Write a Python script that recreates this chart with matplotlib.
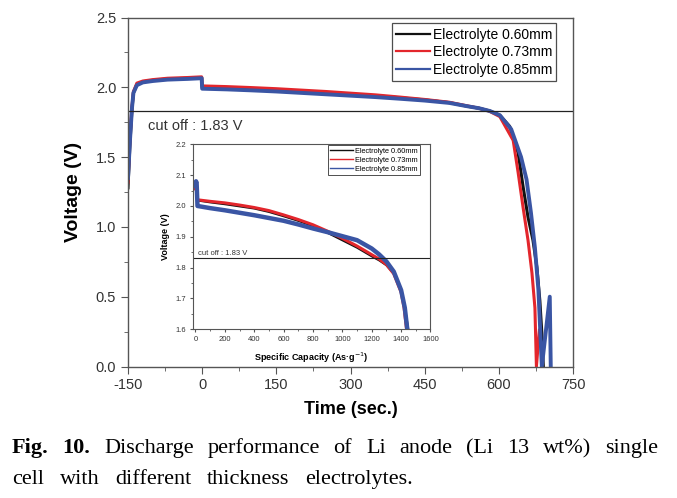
"""Discharge curves of a Li anode single cell, with a specific capacity inset."""

import matplotlib

matplotlib.use("Agg")
import matplotlib.pyplot as plt
from matplotlib.ticker import MultipleLocator

# main panel: voltage vs time (sec.)
labels = ["Electrolyte 0.60mm", "Electrolyte 0.73mm", "Electrolyte 0.85mm"]

t_black = [-150, -146, -142, -139, -132, -120, -100, -70, -30, -1,
           0, 50, 100, 150, 200, 250, 300, 350, 400, 450,
           500, 535, 560, 582, 602, 622, 639, 649, 659, 669,
           677, 683, 687, 690]
v_black = [1.28, 1.60, 1.84, 1.96, 2.02, 2.04, 2.05, 2.06, 2.065, 2.07,
           2.00, 1.995, 1.99, 1.98, 1.97, 1.96, 1.95, 1.94, 1.925, 1.91,
           1.89, 1.865, 1.85, 1.83, 1.80, 1.72, 1.53, 1.29, 1.07, 0.905,
           0.71, 0.47, 0.24, 0.0]

t_red = [-150, -146, -142, -139, -132, -120, -100, -70, -30, -1,
         0, 50, 100, 150, 200, 250, 300, 350, 400, 450,
         500, 535, 560, 580, 602, 629, 639, 649, 659, 667,
         673, 676, 682]
v_red = [1.32, 1.64, 1.86, 1.97, 2.03, 2.045, 2.055, 2.065, 2.07, 2.075,
         2.01, 2.005, 1.998, 1.99, 1.98, 1.97, 1.958, 1.946, 1.93, 1.913,
         1.893, 1.868, 1.85, 1.83, 1.79, 1.62, 1.39, 1.14, 0.905, 0.67,
         0.42, 0.0, 0.26]

t_blue = [-150, -146, -142, -139, -132, -120, -100, -70, -30, -1,
          0, 50, 100, 150, 200, 250, 300, 350, 400, 450,
          500, 535, 560, 582, 602, 625, 645, 656, 665, 673,
          680, 687, 703, 705]
v_blue = [1.35, 1.62, 1.85, 1.96, 2.015, 2.035, 2.045, 2.055, 2.06, 2.065,
          1.99, 1.985, 1.978, 1.97, 1.96, 1.95, 1.94, 1.93, 1.918, 1.905,
          1.888, 1.865, 1.85, 1.83, 1.80, 1.70, 1.50, 1.34, 1.10, 0.85,
          0.55, 0.0, 0.50, 0.0]

# inset: voltage vs specific capacity (As/g)
cap_black = [0, 4, 8, 14, 100, 200, 300, 400, 500, 600, 700, 800, 900, 1000,
             1100, 1200, 1250, 1300, 1350, 1400, 1420, 1435, 1448]
vin_black = [2.06, 2.075, 2.07, 2.018, 2.012, 2.006, 1.999, 1.992, 1.981, 1.967,
             1.952, 1.935, 1.913, 1.889, 1.865, 1.837, 1.824, 1.808, 1.781,
             1.727, 1.684, 1.641, 1.60]

cap_red = [0, 4, 8, 14, 100, 200, 300, 400, 500, 600, 700, 800, 900, 1000,
           1100, 1200, 1250, 1300, 1350, 1400, 1420, 1437]
vin_red = [2.055, 2.07, 2.065, 2.02, 2.015, 2.01, 2.003, 1.995, 1.985, 1.971,
           1.956, 1.939, 1.918, 1.895, 1.87, 1.842, 1.828, 1.81, 1.78, 1.72,
           1.67, 1.60]

cap_blue = [0, 4, 8, 14, 100, 200, 300, 400, 500, 600, 700, 800, 900, 1000,
            1100, 1200, 1250, 1300, 1350, 1400, 1425, 1442]
vin_blue = [2.065, 2.08, 2.075, 2.0, 1.993, 1.986, 1.978, 1.970, 1.961, 1.952,
            1.94, 1.927, 1.915, 1.902, 1.889, 1.862, 1.843, 1.82, 1.787, 1.727,
            1.67, 1.60]

cutoff = 1.83

caption_line1 = ["Fig.", "10.", "Discharge", "performance", "of", "Li", "anode",
                 "(Li", "13", "wt%)", "single"]
caption_bold = 2  # first two words are bold
caption_line2 = ["cell", "with", "different", "thickness", "electrolytes."]

colors = ["#111111", "#e3262c", "#3a55a4"]
spine_color = "#555555"
tick_color = "#333333"

plt.rcParams["font.family"] = ["Liberation Sans", "DejaVu Sans"]
plt.rcParams["axes.unicode_minus"] = False

fig = plt.figure(figsize=(6.77, 4.98), dpi=100)

# ---- main axes ----
ax = fig.add_axes([128 / 677, (498 - 366.5) / 498, 445 / 677, 349 / 498])
ax.plot(t_black, v_black, color=colors[0], lw=2.2, label=labels[0])
ax.plot(t_red, v_red, color=colors[1], lw=2.2, label=labels[1])
ax.plot(t_blue, v_blue, color=colors[2], lw=2.8, label=labels[2])
ax.axhline(cutoff, color="#222222", lw=0.9)
ax.text(-110, 1.72, "cut off : 1.83 V", fontsize=10.5, color=tick_color, va="center")

ax.set_xlim(-150, 750)
ax.set_ylim(0.0, 2.5)
ax.xaxis.set_major_locator(MultipleLocator(150))
ax.xaxis.set_minor_locator(MultipleLocator(75))
ax.yaxis.set_major_locator(MultipleLocator(0.5))
ax.yaxis.set_minor_locator(MultipleLocator(0.25))
ax.yaxis.set_major_formatter(plt.FormatStrFormatter("%.1f"))
ax.tick_params(which="both", direction="out", top=False, right=False,
               color=spine_color, labelcolor=tick_color, labelsize=10.5)
ax.tick_params(which="major", length=5)
ax.tick_params(which="minor", length=3)
for sp in ax.spines.values():
    sp.set_color(spine_color)
    sp.set_linewidth(1.0)
ax.set_xlabel("Time (sec.)", fontsize=13, fontweight="bold", labelpad=6)
ax.set_ylabel("Voltage (V)", fontsize=14, fontweight="bold", labelpad=10)

leg = ax.legend(loc="upper right", bbox_to_anchor=(0.962, 0.983), fontsize=10,
                frameon=True, fancybox=False, edgecolor="#222222",
                handlelength=2.4, handletextpad=0.2, borderpad=0.3,
                labelspacing=0.25, borderaxespad=0.0)
leg.get_frame().set_linewidth(0.9)
for line in leg.get_lines():
    line.set_linewidth(1.6)

# ---- inset ----
ins = fig.add_axes([192.5 / 677, (498 - 329.3) / 498, 238 / 677, 185 / 498])
ins.plot(cap_black, vin_black, color=colors[0], lw=1.6, label=labels[0])
ins.plot(cap_red, vin_red, color=colors[1], lw=2.2, label=labels[1])
ins.plot(cap_blue, vin_blue, color=colors[2], lw=3.2, label=labels[2])
ins.axhline(cutoff, color="#222222", lw=0.8)
ins.text(20, 1.845, "cut off : 1.83 V", fontsize=5.5, color=tick_color, va="center")

ins.set_xlim(-20, 1600)
ins.set_ylim(1.6, 2.2)
ins.xaxis.set_major_locator(MultipleLocator(200))
ins.xaxis.set_minor_locator(MultipleLocator(100))
ins.yaxis.set_major_locator(MultipleLocator(0.1))
ins.yaxis.set_minor_locator(MultipleLocator(0.05))
ins.yaxis.set_major_formatter(plt.FormatStrFormatter("%.1f"))
ins.tick_params(which="both", direction="out", top=False, right=False,
                color=spine_color, labelcolor=tick_color, labelsize=5.5, pad=2)
ins.tick_params(which="major", length=2.5)
ins.tick_params(which="minor", length=1.5)
for sp in ins.spines.values():
    sp.set_color(spine_color)
    sp.set_linewidth(0.8)
ins.set_xlabel("Specific Capacity (As·g$^{-1}$)", fontsize=6.5, fontweight="bold", labelpad=6)
ins.set_ylabel("Voltage (V)", fontsize=6.5, fontweight="bold", labelpad=4)

ileg = ins.legend(loc="upper right", bbox_to_anchor=(0.955, 0.995), fontsize=5.3,
                  frameon=True, fancybox=False, edgecolor="#222222",
                  handlelength=3.2, handletextpad=0.2, borderpad=0.3,
                  labelspacing=0.25, borderaxespad=0.0)
ileg.get_frame().set_linewidth(0.7)
for line in ileg.get_lines():
    line.set_linewidth(1.0)


# ---- caption: words spread evenly between given pixel bounds (justified look) ----
def place_words(words, x0, x1, baseline, bold_count=0, size=16):
    renderer = fig.canvas.get_renderer()
    texts = []
    for i, word in enumerate(words):
        txt = fig.text(0, 1 - baseline / 498, word, fontsize=size,
                       family=["Liberation Serif", "DejaVu Serif"],
                       fontweight="bold" if i < bold_count else "normal",
                       ha="left", va="baseline")
        texts.append(txt)
    widths = [t.get_window_extent(renderer).width for t in texts]
    gap = (x1 - x0 - sum(widths)) / (len(words) - 1)
    x = x0
    for txt, w in zip(texts, widths):
        txt.set_x(x / 677)
        x += w + gap


place_words(caption_line1, 12, 658, 453, bold_count=caption_bold)
place_words(caption_line2, 12, 413, 484)

fig.savefig("out.png", dpi=100)
